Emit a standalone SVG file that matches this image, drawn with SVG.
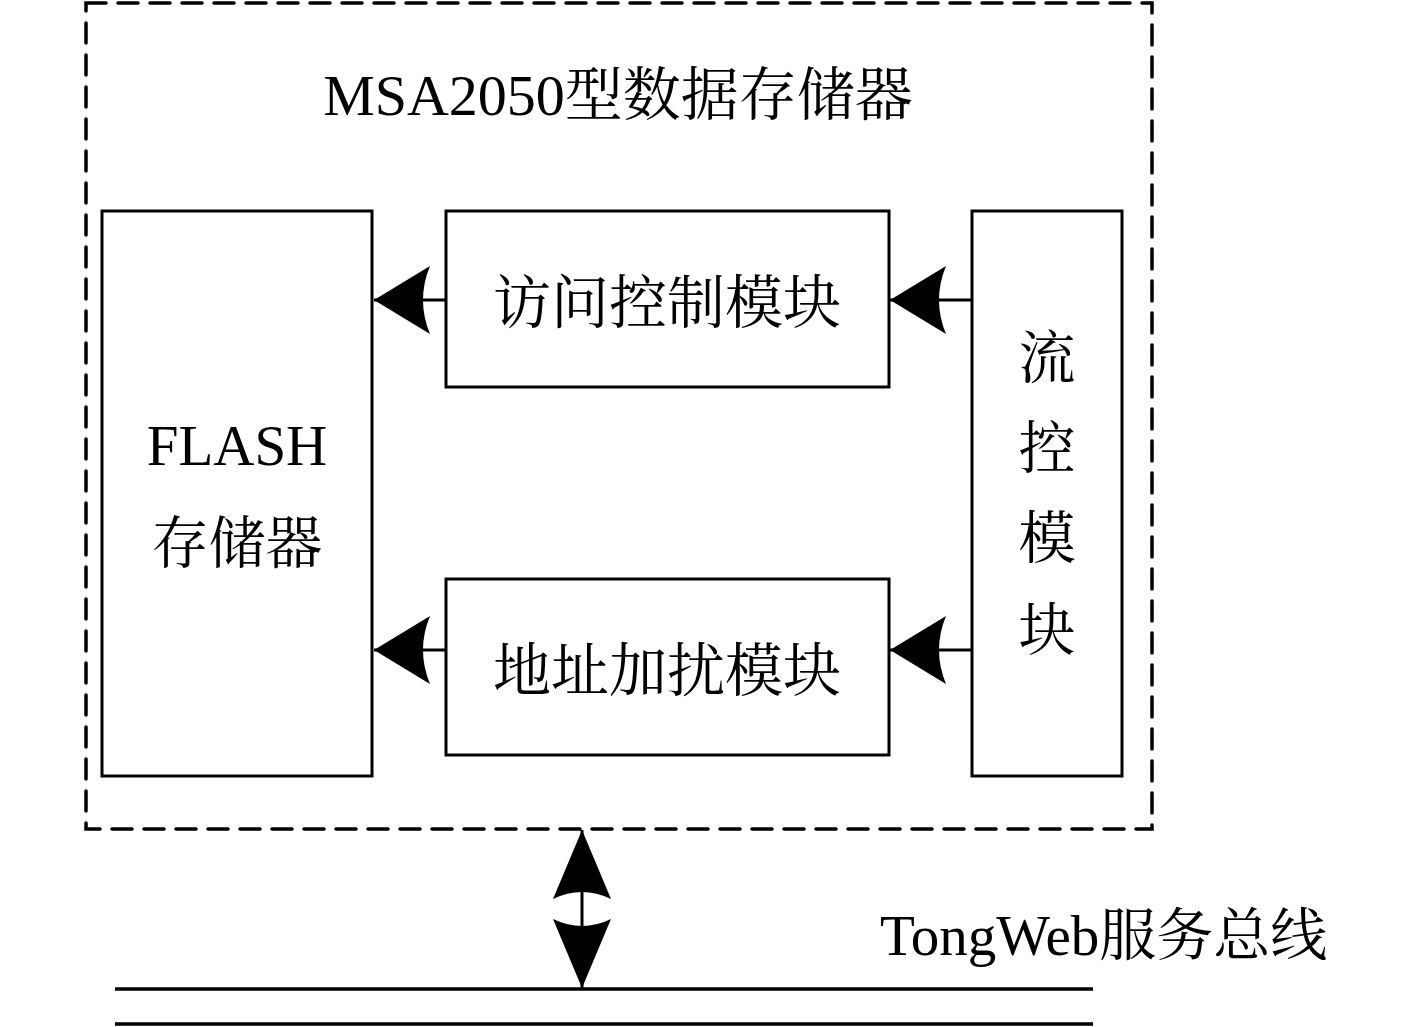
<svg xmlns="http://www.w3.org/2000/svg" width="1417" height="1027" viewBox="0 0 1417 1027">
<style>
.box{fill:#fff;stroke:#000;stroke-width:3}
.frame{fill:none;stroke:#000;stroke-width:3.5;stroke-dasharray:20 12;stroke-linecap:round}
.ln{stroke:#000;stroke-width:3;fill:none}
.bus{stroke:#000;stroke-width:3.5}
.t{font-family:"Liberation Serif","Noto Serif CJK SC","Noto Sans CJK SC",serif;font-size:57px;fill:#000}
</style>
<defs>
<marker id="ah" markerUnits="userSpaceOnUse" orient="auto" refX="0" refY="0" markerWidth="80" markerHeight="80" viewBox="-60 -40 62 80" overflow="visible">
<path d="M0,0 L-56,-34 Q-42,0 -56,34 Z" fill="#000"/>
</marker>
<marker id="av" markerUnits="userSpaceOnUse" orient="auto" refX="0" refY="0" markerWidth="80" markerHeight="80" viewBox="-72 -40 74 80" overflow="visible">
<path d="M0,0 L-69,-29 Q-55,0 -69,29 Z" fill="#000"/>
</marker>
</defs>
<rect id="frame" class="frame" x="86" y="3" width="1066" height="826"/>
<text id="title" class="t" x="618" y="115" text-anchor="middle" style="font-size:58px">MSA2050型数据存储器</text>
<g id="flash">
<rect class="box" x="102" y="211" width="270" height="565"/>
<text class="t" x="237" y="465" text-anchor="middle">FLASH</text>
<text class="t" x="237" y="563" text-anchor="middle">存储器</text>
</g>
<g id="access">
<rect class="box" x="446" y="211" width="443" height="176"/>
<text class="t" x="667" y="323" text-anchor="middle" style="font-size:58px">访问控制模块</text>
</g>
<g id="scramble">
<rect class="box" x="446" y="579" width="443" height="176"/>
<text class="t" x="667" y="691" text-anchor="middle" style="font-size:58px">地址加扰模块</text>
</g>
<g id="flow">
<rect class="box" x="972" y="211" width="150" height="565"/>
<text class="t" x="1047" y="378" text-anchor="middle">流</text>
<text class="t" x="1047" y="468" text-anchor="middle">控</text>
<text class="t" x="1047" y="558" text-anchor="middle">模</text>
<text class="t" x="1047" y="650" text-anchor="middle">块</text>
</g>
<g id="bus">
<line class="bus" x1="115" y1="989" x2="1093" y2="989"/>
<line class="bus" x1="115" y1="1024" x2="1093" y2="1024"/>
<text class="t" x="880" y="955">TongWeb服务总线</text>
</g>
<g id="connectors">
<line class="ln" x1="446" y1="300" x2="374" y2="300" marker-end="url(#ah)"/>
<line class="ln" x1="972" y1="300" x2="890" y2="300" marker-end="url(#ah)"/>
<line class="ln" x1="446" y1="650" x2="374" y2="650" marker-end="url(#ah)"/>
<line class="ln" x1="972" y1="650" x2="890" y2="650" marker-end="url(#ah)"/>
<line class="ln" x1="582" y1="909" x2="582" y2="830" marker-end="url(#av)"/>
<line class="ln" x1="582" y1="909" x2="582" y2="988" marker-end="url(#av)"/>
</g>
</svg>
